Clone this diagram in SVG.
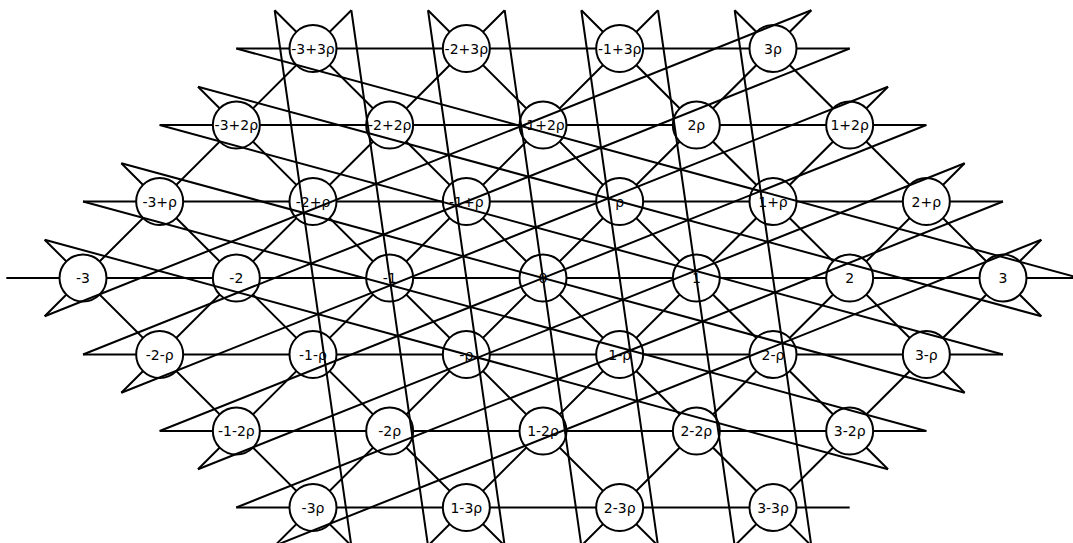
<svg xmlns="http://www.w3.org/2000/svg" width="1073" height="543" viewBox="0 0 1073 543">
<style>
.ln{stroke:#000;stroke-width:2;fill:none}
.nd circle{fill:#fff;stroke:#000;stroke-width:2}
.nd text{font-family:"DejaVu Sans","Liberation Sans",sans-serif;font-size:14px;text-anchor:middle;fill:#000}
</style>
<rect width="1073" height="543" fill="#fff"/>
<g id="connectors">
<g id="lattice-lines" class="ln">
<path d="M236.33,48.5H849.67M159.67,125H926.33M83,201.5H1003M6.33,278H1079.67M83,354.5H1003M159.67,431H926.33M236.33,507.5H849.67"/>
<path d="M44.67,316.25L351.33,10.25M121.33,392.75L504.67,10.25M198,469.25L658,10.25M274.67,545.75L811.33,10.25M428,545.75L888,86.75M581.33,545.75L964.67,163.25M734.67,545.75L1041.33,239.75"/>
<path d="M1041.33,316.25L734.67,10.25M964.67,392.75L581.33,10.25M888,469.25L428,10.25M811.33,545.75L274.67,10.25M658,545.75L198,86.75M504.67,545.75L121.33,163.25M351.33,545.75L44.67,239.75"/>
</g>
</g>
<g id="nodes">
<g id="n_m3p3r" class="nd" transform="translate(313,48.5)"><circle r="23.5"/><text y="5">-3+3ρ</text></g>
<g id="n_m2p3r" class="nd" transform="translate(466.33,48.5)"><circle r="23.5"/><text y="5">-2+3ρ</text></g>
<g id="n_m1p3r" class="nd" transform="translate(619.67,48.5)"><circle r="23.5"/><text y="5">-1+3ρ</text></g>
<g id="n_3r" class="nd" transform="translate(773,48.5)"><circle r="23.5"/><text y="5">3ρ</text></g>
<g id="n_m3p2r" class="nd" transform="translate(236.33,125)"><circle r="23.5"/><text y="5">-3+2ρ</text></g>
<g id="n_m2p2r" class="nd" transform="translate(389.67,125)"><circle r="23.5"/><text y="5">-2+2ρ</text></g>
<g id="n_m1p2r" class="nd" transform="translate(543,125)"><circle r="23.5"/><text y="5">-1+2ρ</text></g>
<g id="n_2r" class="nd" transform="translate(696.33,125)"><circle r="23.5"/><text y="5">2ρ</text></g>
<g id="n_1p2r" class="nd" transform="translate(849.67,125)"><circle r="23.5"/><text y="5">1+2ρ</text></g>
<g id="n_m3p1r" class="nd" transform="translate(159.67,201.5)"><circle r="23.5"/><text y="5">-3+ρ</text></g>
<g id="n_m2p1r" class="nd" transform="translate(313,201.5)"><circle r="23.5"/><text y="5">-2+ρ</text></g>
<g id="n_m1p1r" class="nd" transform="translate(466.33,201.5)"><circle r="23.5"/><text y="5">-1+ρ</text></g>
<g id="n_1r" class="nd" transform="translate(619.67,201.5)"><circle r="23.5"/><text y="5">ρ</text></g>
<g id="n_1p1r" class="nd" transform="translate(773,201.5)"><circle r="23.5"/><text y="5">1+ρ</text></g>
<g id="n_2p1r" class="nd" transform="translate(926.33,201.5)"><circle r="23.5"/><text y="5">2+ρ</text></g>
<g id="n_m3" class="nd" transform="translate(83,278)"><circle r="23.5"/><text y="5">-3</text></g>
<g id="n_m2" class="nd" transform="translate(236.33,278)"><circle r="23.5"/><text y="5">-2</text></g>
<g id="n_m1" class="nd" transform="translate(389.67,278)"><circle r="23.5"/><text y="5">-1</text></g>
<g id="n_0" class="nd" transform="translate(543,278)"><circle r="23.5"/><text y="5">0</text></g>
<g id="n_1" class="nd" transform="translate(696.33,278)"><circle r="23.5"/><text y="5">1</text></g>
<g id="n_2" class="nd" transform="translate(849.67,278)"><circle r="23.5"/><text y="5">2</text></g>
<g id="n_3" class="nd" transform="translate(1003,278)"><circle r="23.5"/><text y="5">3</text></g>
<g id="n_m2m1r" class="nd" transform="translate(159.67,354.5)"><circle r="23.5"/><text y="5">-2-ρ</text></g>
<g id="n_m1m1r" class="nd" transform="translate(313,354.5)"><circle r="23.5"/><text y="5">-1-ρ</text></g>
<g id="n_m1r" class="nd" transform="translate(466.33,354.5)"><circle r="23.5"/><text y="5">-ρ</text></g>
<g id="n_1m1r" class="nd" transform="translate(619.67,354.5)"><circle r="23.5"/><text y="5">1-ρ</text></g>
<g id="n_2m1r" class="nd" transform="translate(773,354.5)"><circle r="23.5"/><text y="5">2-ρ</text></g>
<g id="n_3m1r" class="nd" transform="translate(926.33,354.5)"><circle r="23.5"/><text y="5">3-ρ</text></g>
<g id="n_m1m2r" class="nd" transform="translate(236.33,431)"><circle r="23.5"/><text y="5">-1-2ρ</text></g>
<g id="n_m2r" class="nd" transform="translate(389.67,431)"><circle r="23.5"/><text y="5">-2ρ</text></g>
<g id="n_1m2r" class="nd" transform="translate(543,431)"><circle r="23.5"/><text y="5">1-2ρ</text></g>
<g id="n_2m2r" class="nd" transform="translate(696.33,431)"><circle r="23.5"/><text y="5">2-2ρ</text></g>
<g id="n_3m2r" class="nd" transform="translate(849.67,431)"><circle r="23.5"/><text y="5">3-2ρ</text></g>
<g id="n_m3r" class="nd" transform="translate(313,507.5)"><circle r="23.5"/><text y="5">-3ρ</text></g>
<g id="n_1m3r" class="nd" transform="translate(466.33,507.5)"><circle r="23.5"/><text y="5">1-3ρ</text></g>
<g id="n_2m3r" class="nd" transform="translate(619.67,507.5)"><circle r="23.5"/><text y="5">2-3ρ</text></g>
<g id="n_3m3r" class="nd" transform="translate(773,507.5)"><circle r="23.5"/><text y="5">3-3ρ</text></g>
</g>
<g id="wrap-connectors" class="ln">
<path d="M849.67,48.5L83,354.5M926.33,125L159.67,431M1003,201.5L236.33,507.5M1079.67,278L236.33,48.5M1003,354.5L159.67,125M926.33,431L83,201.5"/>
<path d="M351.33,10.25L428,545.75M504.67,10.25L581.33,545.75M658,10.25L734.67,545.75M811.33,10.25L44.67,316.25M888,86.75L121.33,392.75M964.67,163.25L198,469.25M1041.33,239.75L274.67,545.75"/>
<path d="M734.67,10.25L811.33,545.75M581.33,10.25L658,545.75M428,10.25L504.67,545.75M274.67,10.25L351.33,545.75M198,86.75L1041.33,316.25M121.33,163.25L964.67,392.75M44.67,239.75L888,469.25"/>
</g>
</svg>
